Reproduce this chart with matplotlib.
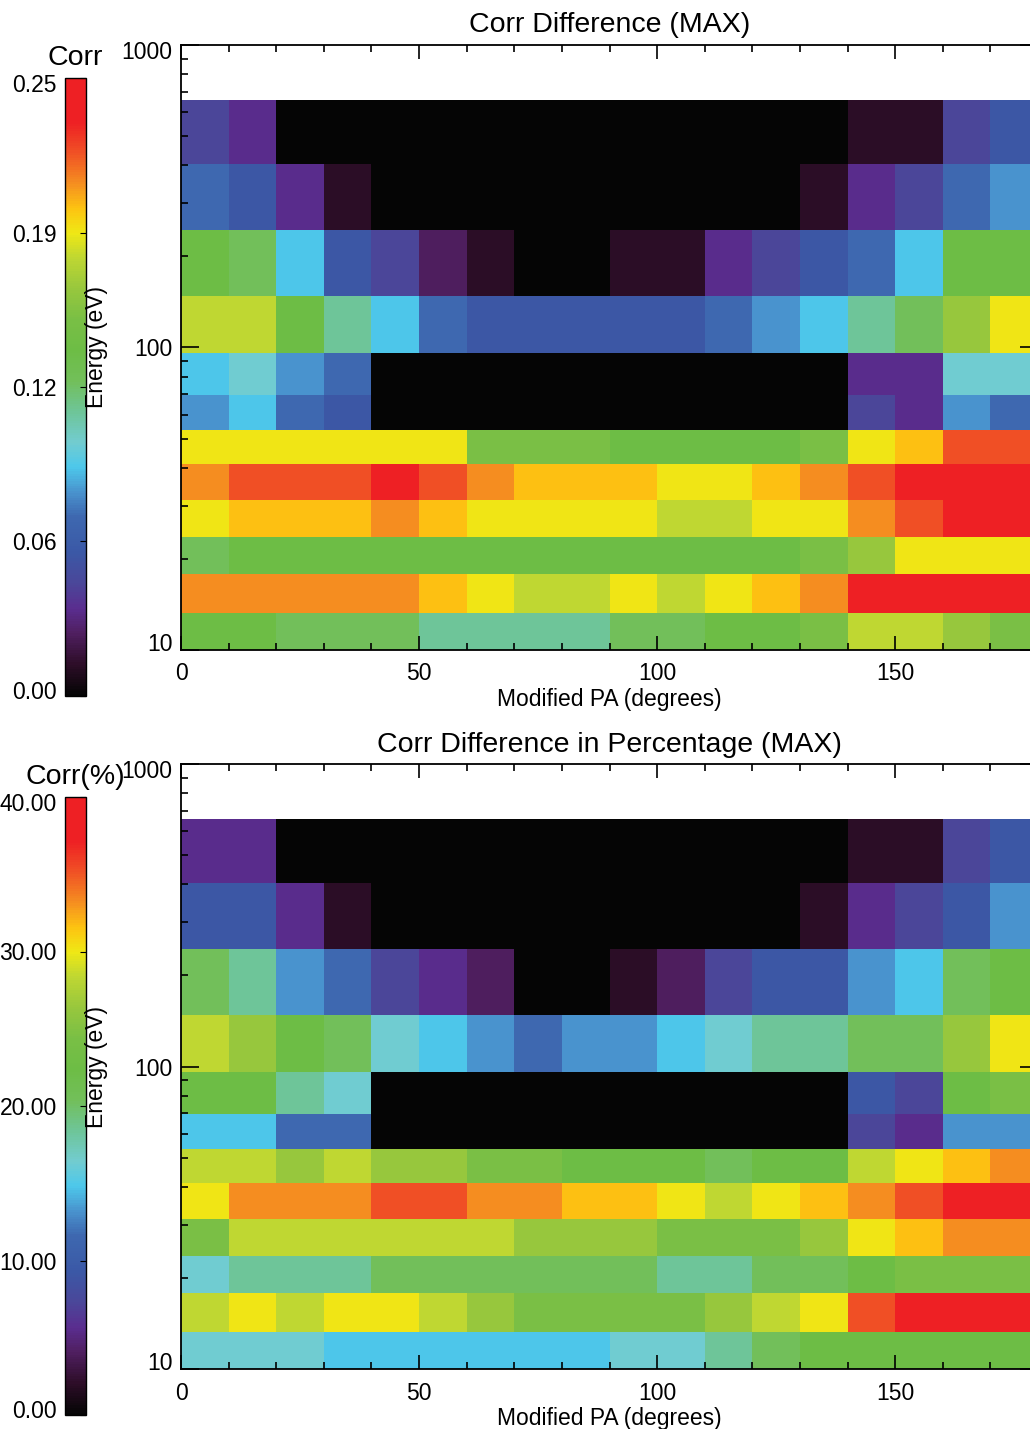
import numpy as np
import matplotlib
matplotlib.use("Agg")
import matplotlib.pyplot as plt
import matplotlib.transforms as mtransforms
from matplotlib.colors import LinearSegmentedColormap
from matplotlib.ticker import FixedLocator, LogLocator, NullFormatter, FormatStrFormatter

plt.rcParams['font.family'] = ['Liberation Sans', 'DejaVu Sans']

# ---------------- data ----------------
pa_edges = np.arange(0, 190, 10)                      # Modified PA bins (deg)
energy_edges = [10, 13.3, 17.8, 23.6, 31.3, 41.2, 53.4, 69.6, 95.9, 148, 244, 404, 658]  # eV

# value levels (fraction of full scale)
K, D, P2, P, I, B, M, L, C, T = 0.0, 0.05, 0.10, 0.14, 0.18, 0.23, 0.29, 0.33, 0.37, 0.41
G1, G2, G, G3, Y1, Y2, Y, O1, O, R1, R = 0.46, 0.51, 0.56, 0.61, 0.66, 0.71, 0.75, 0.79, 0.83, 0.88, 0.95

# Panel 1: Corr Difference (MAX); rows bottom (10 eV) -> top
corr_frac = [
    [G, G, G2, G2, G2, G1, G1, G1, G1, G2, G2, G, G, G3, Y2, Y2, Y1, G3],
    [O, O, O, O, O, O1, Y, Y2, Y2, Y, Y2, Y, O1, O, R, R, R, R],
    [G2, G, G, G, G, G, G, G, G, G, G, G, G, G3, Y1, Y, Y, Y],
    [Y, O1, O1, O1, O, O1, Y, Y, Y, Y, Y2, Y2, Y, Y, O, R1, R, R],
    [O, R1, R1, R1, R, R1, O, O1, O1, O1, Y, Y, O1, O, R1, R, R, R],
    [Y, Y, Y, Y, Y, Y, G3, G3, G3, G, G, G, G, G3, Y, O1, R1, R1],
    [L, C, M, B, K, K, K, K, K, K, K, K, K, K, I, P, L, M],
    [C, T, L, M, K, K, K, K, K, K, K, K, K, K, P, P, T, T],
    [Y2, Y2, G, G1, C, M, B, B, B, B, B, M, L, C, G1, G2, Y1, Y],
    [G, G2, C, B, I, P2, D, K, K, D, D, P, I, B, M, C, G, G],
    [M, B, P, D, K, K, K, K, K, K, K, K, K, D, P, I, M, L],
    [I, P, K, K, K, K, K, K, K, K, K, K, K, K, D, D, I, B],
]
corr_max = 0.25
corr_values = np.array(corr_frac) * corr_max

# Panel 2: Corr Difference in Percentage (MAX)
pct_frac = [
    [T, T, T, C, C, C, C, C, C, T, T, G1, G2, G, G, G, G, G],
    [Y2, Y, Y2, Y, Y, Y2, Y1, G3, G3, G3, G3, Y1, Y2, Y, R1, R, R, R],
    [T, G1, G1, G1, G2, G2, G2, G2, G2, G2, G1, G1, G2, G2, G, G3, G3, G3],
    [G3, Y2, Y2, Y2, Y2, Y2, Y2, Y1, Y1, Y1, G3, G3, G3, Y1, Y, O1, O, O],
    [Y, O, O, O, R1, R1, O, O, O1, O1, Y, Y2, Y, O1, O, R1, R, R],
    [Y2, Y2, Y1, Y2, Y1, Y1, G3, G3, G, G, G, G2, G, G, Y2, Y, O1, O],
    [C, C, M, M, K, K, K, K, K, K, K, K, K, K, I, P, L, L],
    [G, G, G1, T, K, K, K, K, K, K, K, K, K, K, B, I, G, G3],
    [Y2, Y1, G, G2, T, C, L, M, L, L, C, T, G1, G1, G2, G2, Y1, Y],
    [G2, G1, L, M, I, P, P2, K, K, D, P2, I, B, B, L, C, G2, G],
    [B, B, P, D, K, K, K, K, K, K, K, K, K, D, P, I, B, L],
    [P, P, K, K, K, K, K, K, K, K, K, K, K, K, D, D, I, B],
]
pct_max = 40.0
pct_values = np.array(pct_frac) * pct_max

corr_ticks = np.linspace(0, corr_max, 5)
pct_ticks = np.linspace(0, pct_max, 5)

# ---------------- colour map ----------------
cmap_pos = [0.00, 0.05, 0.10, 0.14, 0.18, 0.23, 0.29, 0.33, 0.37, 0.41, 0.46,
            0.51, 0.56, 0.61, 0.66, 0.71, 0.75, 0.79, 0.83, 0.88, 0.93, 1.00]
cmap_col = ['#050505', '#2d0d28', '#4f1f60', '#5a2d8f', '#4b4699', '#3b58a6',
            '#3e68b0', '#4994ce', '#4dc8eb', '#72ccd0', '#6ec598', '#72bf5a',
            '#6dbd45', '#79bf45', '#98c73d', '#bfd732', '#efe815', '#fdc311',
            '#f58f20', '#f05125', '#ee2024', '#ee2024']
cmap = LinearSegmentedColormap.from_list('idl_rainbow', list(zip(cmap_pos, cmap_col)))

# ---------------- figure ----------------
W, H = 1030, 1429
fig = plt.figure(figsize=(W / 100, H / 100), dpi=100)

def fx(px):
    return px / W

def fy(py):
    return 1 - py / H

def shift(label, dy_px):
    label.set_transform(label.get_transform() +
                        mtransforms.ScaledTranslation(0, -dy_px / 100, fig.dpi_scale_trans))

panels = [
    dict(values=corr_values, vmax=corr_max, ticks=corr_ticks,
         title='Corr Difference (MAX)', cbtitle='Corr', off=0),
    dict(values=pct_values, vmax=pct_max, ticks=pct_ticks,
         title='Corr Difference in Percentage (MAX)', cbtitle='Corr(%)', off=719),
]

for p in panels:
    off = p['off']
    top, bot = 45 + off, 650 + off
    ax = fig.add_axes([fx(181), fy(bot), fx(1038 - 181), (bot - top) / H])
    mesh = ax.pcolormesh(pa_edges, energy_edges, p['values'], cmap=cmap,
                         vmin=0, vmax=p['vmax'], shading='flat')
    ax.set_yscale('log')
    ax.set_ylim(10, 1000)
    ax.set_xlim(0, 180)

    ax.set_xticks([0, 50, 100, 150])
    ax.xaxis.set_minor_locator(FixedLocator(np.arange(0, 181, 10)))
    ax.yaxis.set_major_locator(FixedLocator([10, 100, 1000]))
    ax.yaxis.set_major_formatter(FormatStrFormatter('%d'))
    ax.yaxis.set_minor_locator(LogLocator(base=10, subs=np.arange(2, 10)))
    ax.yaxis.set_minor_formatter(NullFormatter())

    ax.tick_params(axis='both', which='both', direction='in', top=True, right=True,
                   labelsize=16.5, width=1.2)
    ax.tick_params(axis='x', which='major', length=10, pad=9)
    ax.tick_params(axis='x', which='minor', length=5)
    ax.tick_params(axis='y', which='major', length=13, pad=6)
    ax.tick_params(axis='y', which='minor', length=5)
    for s in ax.spines.values():
        s.set_linewidth(1.3)

    ax.set_title(p['title'], fontsize=20.5, pad=9)
    ax.set_xlabel('Modified PA (degrees)', fontsize=16.5, labelpad=2)

    fig.text(fx(97), fy(347.5 + off), 'Energy (eV)', rotation=90, fontsize=16.5,
             ha='center', va='center')

    cax = fig.add_axes([fx(65), fy(696 + off), fx(21), (696 - 78) / H])
    cb = fig.colorbar(mesh, cax=cax)
    cb.set_ticks(p['ticks'])
    cb.ax.yaxis.set_major_formatter(FormatStrFormatter('%.2f'))
    cb.ax.tick_params(axis='y', which='both', left=False, right=True, labelleft=True,
                      labelright=False, direction='in', length=4, labelsize=16.5, pad=6)
    cb.ax.minorticks_off()
    cb.outline.set_linewidth(1.0)
    fig.text(fx(75.5), fy(58 + off), p['cbtitle'], fontsize=20.5, ha='center', va='center')

    # nudge end labels inward as in the original
    yt = ax.yaxis.get_major_ticks()
    shift(yt[0].label1, -8)
    shift(yt[2].label1, 5)
    ct = cb.ax.yaxis.get_major_ticks()
    shift(ct[0].label1, -6)
    shift(ct[-1].label1, 5)

fig.savefig('out.png', dpi=100)
